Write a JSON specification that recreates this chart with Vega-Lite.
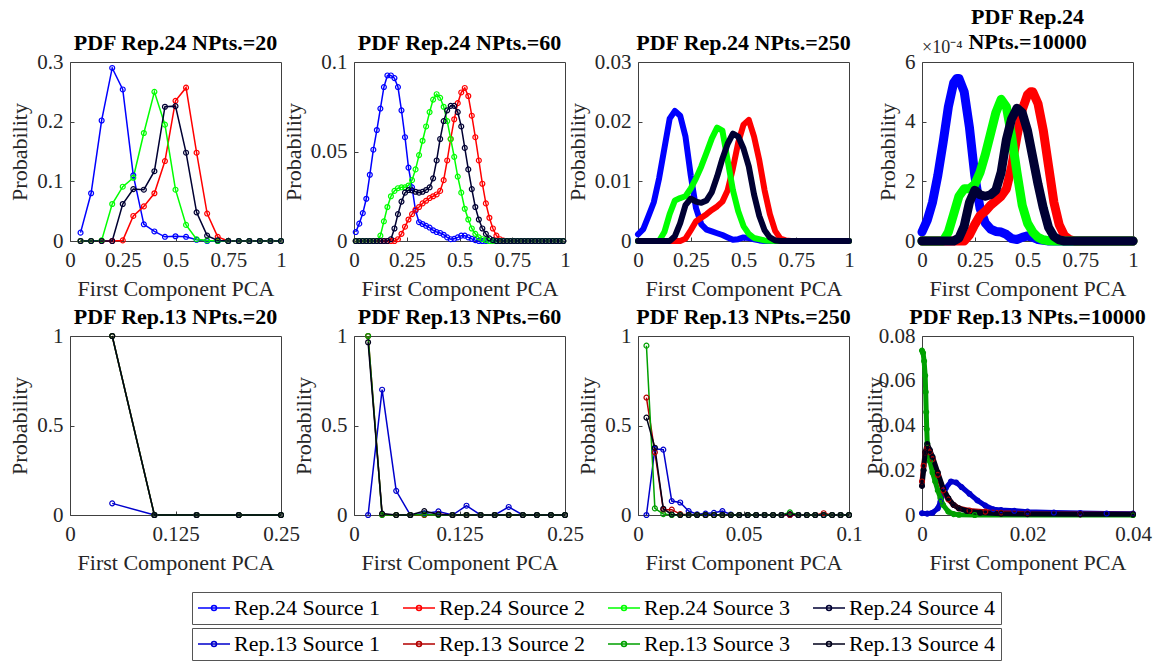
{
"$schema":"https://vega.github.io/schema/vega-lite/v6.json",
"padding":{"left":8,"top":5,"right":6,"bottom":2},
"background":"white",
"bounds":"flush",
"columns":4,
"spacing":{"row":95,"column":73},
"config":{
"font":"Liberation Serif",
"view":{"stroke":"#404040","strokeWidth":1},
"axis":{"labelFont":"Liberation Serif","labelFontSize":21,"labelColor":"#262626","titleFont":"Liberation Serif","titleFontSize":22,"titleFontWeight":"normal","titleColor":"#262626","grid":false,"domain":false,"ticks":true,"tickColor":"#404040","tickSize":-4,"labelFlush":false,"labelOverlap":false,"labelExpr":"'' + datum.value"},
"axisX":{"labelPadding":12,"titlePadding":8},
"axisY":{"labelPadding":11,"titlePadding":5},
"title":{"font":"Liberation Serif","fontSize":22,"fontWeight":"bold","color":"black","offset":-4,"anchor":"middle","lineHeight":25,"frame":"group"},
"legend":{"labelFont":"Liberation Serif","labelFontSize":22,"labelColor":"black","symbolType":"M-1.6,0L1.6,0M0.25,0A0.25,0.25,0,1,1,-0.25,0A0.25,0.25,0,1,1,0.25,0","symbolSize":400,"symbolStrokeWidth":1.5,"symbolOffset":6,"strokeColor":"#555555","fillColor":"white","padding":5,"columnPadding":19,"labelOffset":9,"labelLimit":300}
},
"datasets":{
"p1":[
{"x":0.05,"s":1,"y":0.014},{"x":0.1,"s":1,"y":0.08},{"x":0.15,"s":1,"y":0.202},{"x":0.2,"s":1,"y":0.29},{"x":0.25,"s":1,"y":0.254},{"x":0.3,"s":1,"y":0.11},{"x":0.35,"s":1,"y":0.028},{"x":0.4,"s":1,"y":0.016},{"x":0.45,"s":1,"y":0.007},{"x":0.5,"s":1,"y":0.008},{"x":0.55,"s":1,"y":0.007},{"x":0.6,"s":1,"y":0.002},{"x":0.65,"s":1,"y":0},{"x":0.7,"s":1,"y":0},{"x":0.75,"s":1,"y":0},{"x":0.8,"s":1,"y":0},{"x":0.85,"s":1,"y":0},{"x":0.9,"s":1,"y":0},{"x":0.95,"s":1,"y":0},{"x":1,"s":1,"y":0},
{"x":0.05,"s":2,"y":0},{"x":0.1,"s":2,"y":0},{"x":0.15,"s":2,"y":0},{"x":0.2,"s":2,"y":0},{"x":0.25,"s":2,"y":0.001},{"x":0.3,"s":2,"y":0.042},{"x":0.35,"s":2,"y":0.058},{"x":0.4,"s":2,"y":0.08},{"x":0.45,"s":2,"y":0.134},{"x":0.5,"s":2,"y":0.235},{"x":0.55,"s":2,"y":0.257},{"x":0.6,"s":2,"y":0.148},{"x":0.65,"s":2,"y":0.046},{"x":0.7,"s":2,"y":0.007},{"x":0.75,"s":2,"y":0},{"x":0.8,"s":2,"y":0},{"x":0.85,"s":2,"y":0},{"x":0.9,"s":2,"y":0},{"x":0.95,"s":2,"y":0},{"x":1,"s":2,"y":0},
{"x":0.05,"s":3,"y":0},{"x":0.1,"s":3,"y":0},{"x":0.15,"s":3,"y":0.001},{"x":0.2,"s":3,"y":0.062},{"x":0.25,"s":3,"y":0.091},{"x":0.3,"s":3,"y":0.106},{"x":0.35,"s":3,"y":0.181},{"x":0.4,"s":3,"y":0.25},{"x":0.45,"s":3,"y":0.195},{"x":0.5,"s":3,"y":0.086},{"x":0.55,"s":3,"y":0.027},{"x":0.6,"s":3,"y":0.003},{"x":0.65,"s":3,"y":0.001},{"x":0.7,"s":3,"y":0},{"x":0.75,"s":3,"y":0},{"x":0.8,"s":3,"y":0},{"x":0.85,"s":3,"y":0},{"x":0.9,"s":3,"y":0},{"x":0.95,"s":3,"y":0},{"x":1,"s":3,"y":0},
{"x":0.05,"s":4,"y":0},{"x":0.1,"s":4,"y":0},{"x":0.15,"s":4,"y":0},{"x":0.2,"s":4,"y":0},{"x":0.25,"s":4,"y":0.062},{"x":0.3,"s":4,"y":0.087},{"x":0.35,"s":4,"y":0.086},{"x":0.4,"s":4,"y":0.117},{"x":0.45,"s":4,"y":0.225},{"x":0.5,"s":4,"y":0.226},{"x":0.55,"s":4,"y":0.148},{"x":0.6,"s":4,"y":0.048},{"x":0.65,"s":4,"y":0.009},{"x":0.7,"s":4,"y":0.001},{"x":0.75,"s":4,"y":0},{"x":0.8,"s":4,"y":0},{"x":0.85,"s":4,"y":0},{"x":0.9,"s":4,"y":0},{"x":0.95,"s":4,"y":0},{"x":1,"s":4,"y":0}
],
"p2":[
{"x":0.0083,"s":1,"y":0.005},{"x":0.025,"s":1,"y":0.0097},{"x":0.0417,"s":1,"y":0.0156},{"x":0.0583,"s":1,"y":0.0236},{"x":0.075,"s":1,"y":0.037},{"x":0.0917,"s":1,"y":0.051},{"x":0.1083,"s":1,"y":0.062},{"x":0.125,"s":1,"y":0.074},{"x":0.1417,"s":1,"y":0.086},{"x":0.1583,"s":1,"y":0.0925},{"x":0.175,"s":1,"y":0.0925},{"x":0.1917,"s":1,"y":0.091},{"x":0.2083,"s":1,"y":0.086},{"x":0.225,"s":1,"y":0.073},{"x":0.2417,"s":1,"y":0.058},{"x":0.2583,"s":1,"y":0.041},{"x":0.275,"s":1,"y":0.03},{"x":0.2917,"s":1,"y":0.017},{"x":0.3083,"s":1,"y":0.0105},{"x":0.325,"s":1,"y":0.0095},{"x":0.3417,"s":1,"y":0.0085},{"x":0.3583,"s":1,"y":0.0075},{"x":0.375,"s":1,"y":0.006},{"x":0.3917,"s":1,"y":0.005},{"x":0.4083,"s":1,"y":0.0045},{"x":0.425,"s":1,"y":0.0035},{"x":0.4417,"s":1,"y":0.002},{"x":0.4583,"s":1,"y":0.001},{"x":0.475,"s":1,"y":0.0012},{"x":0.4917,"s":1,"y":0.002},{"x":0.5083,"s":1,"y":0.003},{"x":0.525,"s":1,"y":0.003},{"x":0.5417,"s":1,"y":0.002},{"x":0.5583,"s":1,"y":0.0012},{"x":0.575,"s":1,"y":0.0005},{"x":0.5917,"s":1,"y":0},{"x":0.6083,"s":1,"y":0},{"x":0.625,"s":1,"y":0},{"x":0.6417,"s":1,"y":0},{"x":0.6583,"s":1,"y":0},{"x":0.675,"s":1,"y":0},{"x":0.6917,"s":1,"y":0},{"x":0.7083,"s":1,"y":0},{"x":0.725,"s":1,"y":0},{"x":0.7417,"s":1,"y":0},{"x":0.7583,"s":1,"y":0},{"x":0.775,"s":1,"y":0},{"x":0.7917,"s":1,"y":0},{"x":0.8083,"s":1,"y":0},{"x":0.825,"s":1,"y":0},{"x":0.8417,"s":1,"y":0},{"x":0.8583,"s":1,"y":0},{"x":0.875,"s":1,"y":0},{"x":0.8917,"s":1,"y":0},{"x":0.9083,"s":1,"y":0},{"x":0.925,"s":1,"y":0},{"x":0.9417,"s":1,"y":0},{"x":0.9583,"s":1,"y":0},{"x":0.975,"s":1,"y":0},{"x":0.9917,"s":1,"y":0},
{"x":0.0083,"s":2,"y":0},{"x":0.025,"s":2,"y":0},{"x":0.0417,"s":2,"y":0},{"x":0.0583,"s":2,"y":0},{"x":0.075,"s":2,"y":0},{"x":0.0917,"s":2,"y":0},{"x":0.1083,"s":2,"y":0},{"x":0.125,"s":2,"y":0},{"x":0.1417,"s":2,"y":0},{"x":0.1583,"s":2,"y":0},{"x":0.175,"s":2,"y":0},{"x":0.1917,"s":2,"y":0},{"x":0.2083,"s":2,"y":0.001},{"x":0.225,"s":2,"y":0.004},{"x":0.2417,"s":2,"y":0.008},{"x":0.2583,"s":2,"y":0.012},{"x":0.275,"s":2,"y":0.015},{"x":0.2917,"s":2,"y":0.0175},{"x":0.3083,"s":2,"y":0.019},{"x":0.325,"s":2,"y":0.021},{"x":0.3417,"s":2,"y":0.0225},{"x":0.3583,"s":2,"y":0.024},{"x":0.375,"s":2,"y":0.025},{"x":0.3917,"s":2,"y":0.026},{"x":0.4083,"s":2,"y":0.028},{"x":0.425,"s":2,"y":0.034},{"x":0.4417,"s":2,"y":0.045},{"x":0.4583,"s":2,"y":0.057},{"x":0.475,"s":2,"y":0.068},{"x":0.4917,"s":2,"y":0.077},{"x":0.5083,"s":2,"y":0.083},{"x":0.525,"s":2,"y":0.0855},{"x":0.5417,"s":2,"y":0.081},{"x":0.5583,"s":2,"y":0.07},{"x":0.575,"s":2,"y":0.058},{"x":0.5917,"s":2,"y":0.045},{"x":0.6083,"s":2,"y":0.032},{"x":0.625,"s":2,"y":0.021},{"x":0.6417,"s":2,"y":0.013},{"x":0.6583,"s":2,"y":0.007},{"x":0.675,"s":2,"y":0.003},{"x":0.6917,"s":2,"y":0.001},{"x":0.7083,"s":2,"y":0.0002},{"x":0.725,"s":2,"y":0},{"x":0.7417,"s":2,"y":0},{"x":0.7583,"s":2,"y":0},{"x":0.775,"s":2,"y":0},{"x":0.7917,"s":2,"y":0},{"x":0.8083,"s":2,"y":0},{"x":0.825,"s":2,"y":0},{"x":0.8417,"s":2,"y":0},{"x":0.8583,"s":2,"y":0},{"x":0.875,"s":2,"y":0},{"x":0.8917,"s":2,"y":0},{"x":0.9083,"s":2,"y":0},{"x":0.925,"s":2,"y":0},{"x":0.9417,"s":2,"y":0},{"x":0.9583,"s":2,"y":0},{"x":0.975,"s":2,"y":0},{"x":0.9917,"s":2,"y":0},
{"x":0.0083,"s":3,"y":0},{"x":0.025,"s":3,"y":0},{"x":0.0417,"s":3,"y":0},{"x":0.0583,"s":3,"y":0},{"x":0.075,"s":3,"y":0},{"x":0.0917,"s":3,"y":0},{"x":0.1083,"s":3,"y":0},{"x":0.125,"s":3,"y":0.003},{"x":0.1417,"s":3,"y":0.011},{"x":0.1583,"s":3,"y":0.019},{"x":0.175,"s":3,"y":0.025},{"x":0.1917,"s":3,"y":0.028},{"x":0.2083,"s":3,"y":0.0295},{"x":0.225,"s":3,"y":0.03},{"x":0.2417,"s":3,"y":0.03},{"x":0.2583,"s":3,"y":0.031},{"x":0.275,"s":3,"y":0.034},{"x":0.2917,"s":3,"y":0.04},{"x":0.3083,"s":3,"y":0.048},{"x":0.325,"s":3,"y":0.056},{"x":0.3417,"s":3,"y":0.064},{"x":0.3583,"s":3,"y":0.072},{"x":0.375,"s":3,"y":0.079},{"x":0.3917,"s":3,"y":0.082},{"x":0.4083,"s":3,"y":0.08},{"x":0.425,"s":3,"y":0.075},{"x":0.4417,"s":3,"y":0.067},{"x":0.4583,"s":3,"y":0.057},{"x":0.475,"s":3,"y":0.047},{"x":0.4917,"s":3,"y":0.036},{"x":0.5083,"s":3,"y":0.027},{"x":0.525,"s":3,"y":0.018},{"x":0.5417,"s":3,"y":0.012},{"x":0.5583,"s":3,"y":0.007},{"x":0.575,"s":3,"y":0.004},{"x":0.5917,"s":3,"y":0.002},{"x":0.6083,"s":3,"y":0.001},{"x":0.625,"s":3,"y":0.0005},{"x":0.6417,"s":3,"y":0},{"x":0.6583,"s":3,"y":0},{"x":0.675,"s":3,"y":0},{"x":0.6917,"s":3,"y":0},{"x":0.7083,"s":3,"y":0},{"x":0.725,"s":3,"y":0},{"x":0.7417,"s":3,"y":0},{"x":0.7583,"s":3,"y":0},{"x":0.775,"s":3,"y":0},{"x":0.7917,"s":3,"y":0},{"x":0.8083,"s":3,"y":0},{"x":0.825,"s":3,"y":0},{"x":0.8417,"s":3,"y":0},{"x":0.8583,"s":3,"y":0},{"x":0.875,"s":3,"y":0},{"x":0.8917,"s":3,"y":0},{"x":0.9083,"s":3,"y":0},{"x":0.925,"s":3,"y":0},{"x":0.9417,"s":3,"y":0},{"x":0.9583,"s":3,"y":0},{"x":0.975,"s":3,"y":0},{"x":0.9917,"s":3,"y":0},
{"x":0.0083,"s":4,"y":0},{"x":0.025,"s":4,"y":0},{"x":0.0417,"s":4,"y":0},{"x":0.0583,"s":4,"y":0},{"x":0.075,"s":4,"y":0},{"x":0.0917,"s":4,"y":0},{"x":0.1083,"s":4,"y":0},{"x":0.125,"s":4,"y":0},{"x":0.1417,"s":4,"y":0},{"x":0.1583,"s":4,"y":0},{"x":0.175,"s":4,"y":0.001},{"x":0.1917,"s":4,"y":0.007},{"x":0.2083,"s":4,"y":0.015},{"x":0.225,"s":4,"y":0.022},{"x":0.2417,"s":4,"y":0.027},{"x":0.2583,"s":4,"y":0.0285},{"x":0.275,"s":4,"y":0.0283},{"x":0.2917,"s":4,"y":0.0275},{"x":0.3083,"s":4,"y":0.027},{"x":0.325,"s":4,"y":0.0275},{"x":0.3417,"s":4,"y":0.0285},{"x":0.3583,"s":4,"y":0.03},{"x":0.375,"s":4,"y":0.035},{"x":0.3917,"s":4,"y":0.045},{"x":0.4083,"s":4,"y":0.057},{"x":0.425,"s":4,"y":0.067},{"x":0.4417,"s":4,"y":0.073},{"x":0.4583,"s":4,"y":0.0755},{"x":0.475,"s":4,"y":0.0755},{"x":0.4917,"s":4,"y":0.072},{"x":0.5083,"s":4,"y":0.064},{"x":0.525,"s":4,"y":0.052},{"x":0.5417,"s":4,"y":0.04},{"x":0.5583,"s":4,"y":0.029},{"x":0.575,"s":4,"y":0.019},{"x":0.5917,"s":4,"y":0.012},{"x":0.6083,"s":4,"y":0.007},{"x":0.625,"s":4,"y":0.004},{"x":0.6417,"s":4,"y":0.0015},{"x":0.6583,"s":4,"y":0.0005},{"x":0.675,"s":4,"y":0},{"x":0.6917,"s":4,"y":0},{"x":0.7083,"s":4,"y":0},{"x":0.725,"s":4,"y":0},{"x":0.7417,"s":4,"y":0},{"x":0.7583,"s":4,"y":0},{"x":0.775,"s":4,"y":0},{"x":0.7917,"s":4,"y":0},{"x":0.8083,"s":4,"y":0},{"x":0.825,"s":4,"y":0},{"x":0.8417,"s":4,"y":0},{"x":0.8583,"s":4,"y":0},{"x":0.875,"s":4,"y":0},{"x":0.8917,"s":4,"y":0},{"x":0.9083,"s":4,"y":0},{"x":0.925,"s":4,"y":0},{"x":0.9417,"s":4,"y":0},{"x":0.9583,"s":4,"y":0},{"x":0.975,"s":4,"y":0},{"x":0.9917,"s":4,"y":0}
],
"p3":[
{"x":0,"s":1,"y":0.0011},{"x":0.025,"s":1,"y":0.002},{"x":0.05,"s":1,"y":0.0042},{"x":0.075,"s":1,"y":0.0065},{"x":0.1,"s":1,"y":0.0105},{"x":0.125,"s":1,"y":0.0155},{"x":0.15,"s":1,"y":0.0205},{"x":0.175,"s":1,"y":0.0218},{"x":0.2,"s":1,"y":0.021},{"x":0.225,"s":1,"y":0.0175},{"x":0.25,"s":1,"y":0.011},{"x":0.275,"s":1,"y":0.0055},{"x":0.3,"s":1,"y":0.0028},{"x":0.325,"s":1,"y":0.0019},{"x":0.35,"s":1,"y":0.0016},{"x":0.375,"s":1,"y":0.0013},{"x":0.4,"s":1,"y":0.001},{"x":0.425,"s":1,"y":0.0006},{"x":0.45,"s":1,"y":0.0002},{"x":0.475,"s":1,"y":0.0003},{"x":0.5,"s":1,"y":0.0006},{"x":0.525,"s":1,"y":0.0005},{"x":0.55,"s":1,"y":0.0003},{"x":0.575,"s":1,"y":0.0001},{"x":0.6,"s":1,"y":0},{"x":1,"s":1,"y":0},
{"x":0,"s":2,"y":0},{"x":0.2,"s":2,"y":0},{"x":0.225,"s":2,"y":0.0004},{"x":0.25,"s":2,"y":0.0018},{"x":0.275,"s":2,"y":0.0033},{"x":0.3,"s":2,"y":0.0039},{"x":0.325,"s":2,"y":0.0045},{"x":0.35,"s":2,"y":0.0052},{"x":0.375,"s":2,"y":0.0058},{"x":0.4,"s":2,"y":0.0066},{"x":0.425,"s":2,"y":0.0085},{"x":0.45,"s":2,"y":0.0122},{"x":0.475,"s":2,"y":0.0165},{"x":0.5,"s":2,"y":0.0195},{"x":0.525,"s":2,"y":0.0203},{"x":0.55,"s":2,"y":0.0175},{"x":0.575,"s":2,"y":0.0135},{"x":0.6,"s":2,"y":0.0085},{"x":0.625,"s":2,"y":0.0045},{"x":0.65,"s":2,"y":0.0017},{"x":0.675,"s":2,"y":0.0004},{"x":0.7,"s":2,"y":0.0001},{"x":0.725,"s":2,"y":0},{"x":1,"s":2,"y":0},
{"x":0,"s":3,"y":0},{"x":0.1,"s":3,"y":0},{"x":0.125,"s":3,"y":0.0015},{"x":0.15,"s":3,"y":0.0045},{"x":0.175,"s":3,"y":0.0068},{"x":0.2,"s":3,"y":0.0072},{"x":0.225,"s":3,"y":0.0075},{"x":0.25,"s":3,"y":0.0088},{"x":0.275,"s":3,"y":0.0105},{"x":0.3,"s":3,"y":0.0125},{"x":0.325,"s":3,"y":0.0148},{"x":0.35,"s":3,"y":0.0172},{"x":0.375,"s":3,"y":0.019},{"x":0.4,"s":3,"y":0.0185},{"x":0.425,"s":3,"y":0.0135},{"x":0.45,"s":3,"y":0.0085},{"x":0.475,"s":3,"y":0.005},{"x":0.5,"s":3,"y":0.0025},{"x":0.525,"s":3,"y":0.0012},{"x":0.55,"s":3,"y":0.0005},{"x":0.6,"s":3,"y":0.0001},{"x":0.65,"s":3,"y":0},{"x":1,"s":3,"y":0},
{"x":0,"s":4,"y":0},{"x":0.15,"s":4,"y":0},{"x":0.175,"s":4,"y":0.0008},{"x":0.2,"s":4,"y":0.003},{"x":0.225,"s":4,"y":0.006},{"x":0.25,"s":4,"y":0.0071},{"x":0.275,"s":4,"y":0.0066},{"x":0.3,"s":4,"y":0.0064},{"x":0.325,"s":4,"y":0.0068},{"x":0.35,"s":4,"y":0.0082},{"x":0.375,"s":4,"y":0.0108},{"x":0.4,"s":4,"y":0.0138},{"x":0.425,"s":4,"y":0.0163},{"x":0.45,"s":4,"y":0.018},{"x":0.475,"s":4,"y":0.0175},{"x":0.5,"s":4,"y":0.0155},{"x":0.525,"s":4,"y":0.0125},{"x":0.55,"s":4,"y":0.0078},{"x":0.575,"s":4,"y":0.0042},{"x":0.6,"s":4,"y":0.0018},{"x":0.625,"s":4,"y":0.0006},{"x":0.65,"s":4,"y":0.0001},{"x":0.675,"s":4,"y":0},{"x":1,"s":4,"y":0}
],
"p4":[
{"x":0,"s":1,"y":0.00003},{"x":0.025,"s":1,"y":0.00007},{"x":0.05,"s":1,"y":0.00013},{"x":0.075,"s":1,"y":0.00022},{"x":0.1,"s":1,"y":0.00033},{"x":0.125,"s":1,"y":0.00045},{"x":0.15,"s":1,"y":0.00053},{"x":0.165,"s":1,"y":0.000545},{"x":0.175,"s":1,"y":0.000545},{"x":0.2,"s":1,"y":0.0005},{"x":0.225,"s":1,"y":0.00038},{"x":0.25,"s":1,"y":0.00022},{"x":0.275,"s":1,"y":0.00011},{"x":0.3,"s":1,"y":0.00006},{"x":0.325,"s":1,"y":0.00004},{"x":0.35,"s":1,"y":0.000032},{"x":0.375,"s":1,"y":0.00003},{"x":0.4,"s":1,"y":0.000022},{"x":0.425,"s":1,"y":0.000008},{"x":0.45,"s":1,"y":0.000005},{"x":0.475,"s":1,"y":0.000012},{"x":0.5,"s":1,"y":0.000017},{"x":0.525,"s":1,"y":0.000012},{"x":0.55,"s":1,"y":0.000005},{"x":0.575,"s":1,"y":0.000002},{"x":0.6,"s":1,"y":0},{"x":1,"s":1,"y":0},
{"x":0,"s":2,"y":0},{"x":0.2,"s":2,"y":0},{"x":0.225,"s":2,"y":0.00002},{"x":0.25,"s":2,"y":0.000055},{"x":0.275,"s":2,"y":0.000085},{"x":0.3,"s":2,"y":0.0001},{"x":0.325,"s":2,"y":0.00012},{"x":0.35,"s":2,"y":0.000135},{"x":0.375,"s":2,"y":0.00015},{"x":0.4,"s":2,"y":0.000175},{"x":0.425,"s":2,"y":0.00025},{"x":0.45,"s":2,"y":0.00035},{"x":0.475,"s":2,"y":0.00044},{"x":0.5,"s":2,"y":0.00049},{"x":0.515,"s":2,"y":0.0005},{"x":0.525,"s":2,"y":0.0005},{"x":0.55,"s":2,"y":0.00046},{"x":0.575,"s":2,"y":0.00037},{"x":0.6,"s":2,"y":0.00025},{"x":0.625,"s":2,"y":0.00013},{"x":0.65,"s":2,"y":0.000055},{"x":0.675,"s":2,"y":0.000018},{"x":0.7,"s":2,"y":0.000005},{"x":0.725,"s":2,"y":0},{"x":1,"s":2,"y":0},
{"x":0,"s":3,"y":0},{"x":0.1,"s":3,"y":0},{"x":0.125,"s":3,"y":0.00003},{"x":0.15,"s":3,"y":0.00009},{"x":0.175,"s":3,"y":0.00015},{"x":0.2,"s":3,"y":0.000175},{"x":0.225,"s":3,"y":0.000175},{"x":0.25,"s":3,"y":0.00019},{"x":0.275,"s":3,"y":0.00023},{"x":0.3,"s":3,"y":0.00029},{"x":0.325,"s":3,"y":0.00036},{"x":0.35,"s":3,"y":0.00043},{"x":0.375,"s":3,"y":0.000475},{"x":0.4,"s":3,"y":0.00045},{"x":0.425,"s":3,"y":0.00035},{"x":0.45,"s":3,"y":0.00023},{"x":0.475,"s":3,"y":0.00012},{"x":0.5,"s":3,"y":0.00006},{"x":0.525,"s":3,"y":0.00003},{"x":0.55,"s":3,"y":0.000012},{"x":0.575,"s":3,"y":0.000004},{"x":0.6,"s":3,"y":0.000001},{"x":0.625,"s":3,"y":0},{"x":1,"s":3,"y":0},
{"x":0,"s":4,"y":0},{"x":0.15,"s":4,"y":0},{"x":0.175,"s":4,"y":0.00001},{"x":0.2,"s":4,"y":0.00005},{"x":0.225,"s":4,"y":0.00013},{"x":0.25,"s":4,"y":0.00017},{"x":0.275,"s":4,"y":0.000155},{"x":0.3,"s":4,"y":0.00015},{"x":0.325,"s":4,"y":0.000155},{"x":0.35,"s":4,"y":0.00017},{"x":0.375,"s":4,"y":0.00023},{"x":0.4,"s":4,"y":0.00034},{"x":0.425,"s":4,"y":0.00041},{"x":0.45,"s":4,"y":0.000445},{"x":0.475,"s":4,"y":0.00043},{"x":0.5,"s":4,"y":0.00037},{"x":0.525,"s":4,"y":0.00028},{"x":0.55,"s":4,"y":0.00019},{"x":0.575,"s":4,"y":0.00011},{"x":0.6,"s":4,"y":0.000045},{"x":0.625,"s":4,"y":0.000015},{"x":0.65,"s":4,"y":0.000004},{"x":0.675,"s":4,"y":0},{"x":1,"s":4,"y":0}
],
"p5":[
{"x":0.05,"s":1,"y":0.065},{"x":0.1,"s":1,"y":0},{"x":0.15,"s":1,"y":0},{"x":0.2,"s":1,"y":0},{"x":0.25,"s":1,"y":0},
{"x":0.05,"s":2,"y":1},{"x":0.1,"s":2,"y":0},{"x":0.15,"s":2,"y":0},{"x":0.2,"s":2,"y":0},{"x":0.25,"s":2,"y":0},
{"x":0.05,"s":3,"y":1},{"x":0.1,"s":3,"y":0},{"x":0.15,"s":3,"y":0},{"x":0.2,"s":3,"y":0},{"x":0.25,"s":3,"y":0},
{"x":0.05,"s":4,"y":1},{"x":0.1,"s":4,"y":0},{"x":0.15,"s":4,"y":0},{"x":0.2,"s":4,"y":0},{"x":0.25,"s":4,"y":0}
],
"p6":[
{"x":0.0167,"s":1,"y":0},{"x":0.0333,"s":1,"y":0.7},{"x":0.05,"s":1,"y":0.135},{"x":0.0667,"s":1,"y":0},{"x":0.0833,"s":1,"y":0.008},{"x":0.1,"s":1,"y":0.02},{"x":0.1167,"s":1,"y":0},{"x":0.1333,"s":1,"y":0.052},{"x":0.15,"s":1,"y":0},{"x":0.1667,"s":1,"y":0},{"x":0.1833,"s":1,"y":0.045},{"x":0.2,"s":1,"y":0},{"x":0.2167,"s":1,"y":0},{"x":0.2333,"s":1,"y":0},{"x":0.25,"s":1,"y":0},
{"x":0.0167,"s":2,"y":1},{"x":0.0333,"s":2,"y":0.003},{"x":0.05,"s":2,"y":0},{"x":0.0667,"s":2,"y":0},{"x":0.0833,"s":2,"y":0},{"x":0.1,"s":2,"y":0.004},{"x":0.1167,"s":2,"y":0},{"x":0.1333,"s":2,"y":0},{"x":0.15,"s":2,"y":0},{"x":0.1667,"s":2,"y":0},{"x":0.1833,"s":2,"y":0},{"x":0.2,"s":2,"y":0},{"x":0.2167,"s":2,"y":0},{"x":0.2333,"s":2,"y":0},{"x":0.25,"s":2,"y":0},
{"x":0.0167,"s":3,"y":1},{"x":0.0333,"s":3,"y":0},{"x":0.05,"s":3,"y":0},{"x":0.0667,"s":3,"y":0},{"x":0.0833,"s":3,"y":0.003},{"x":0.1,"s":3,"y":0},{"x":0.1167,"s":3,"y":0},{"x":0.1333,"s":3,"y":0},{"x":0.15,"s":3,"y":0},{"x":0.1667,"s":3,"y":0},{"x":0.1833,"s":3,"y":0},{"x":0.2,"s":3,"y":0},{"x":0.2167,"s":3,"y":0},{"x":0.2333,"s":3,"y":0},{"x":0.25,"s":3,"y":0},
{"x":0.0167,"s":4,"y":0.965},{"x":0.0333,"s":4,"y":0.008},{"x":0.05,"s":4,"y":0},{"x":0.0667,"s":4,"y":0},{"x":0.0833,"s":4,"y":0.022},{"x":0.1,"s":4,"y":0.003},{"x":0.1167,"s":4,"y":0},{"x":0.1333,"s":4,"y":0},{"x":0.15,"s":4,"y":0},{"x":0.1667,"s":4,"y":0},{"x":0.1833,"s":4,"y":0},{"x":0.2,"s":4,"y":0},{"x":0.2167,"s":4,"y":0},{"x":0.2333,"s":4,"y":0},{"x":0.25,"s":4,"y":0}
],
"p7":[
{"x":0.004,"s":1,"y":0},{"x":0.008,"s":1,"y":0.37},{"x":0.012,"s":1,"y":0.365},{"x":0.016,"s":1,"y":0.078},{"x":0.02,"s":1,"y":0.07},{"x":0.024,"s":1,"y":0.022},{"x":0.028,"s":1,"y":0.004},{"x":0.032,"s":1,"y":0.008},{"x":0.036,"s":1,"y":0.012},{"x":0.04,"s":1,"y":0.022},{"x":0.044,"s":1,"y":0.003},{"x":0.048,"s":1,"y":0},{"x":0.052,"s":1,"y":0},{"x":0.056,"s":1,"y":0},{"x":0.06,"s":1,"y":0},{"x":0.064,"s":1,"y":0},{"x":0.068,"s":1,"y":0},{"x":0.072,"s":1,"y":0},{"x":0.076,"s":1,"y":0},{"x":0.08,"s":1,"y":0},{"x":0.084,"s":1,"y":0},{"x":0.088,"s":1,"y":0},{"x":0.092,"s":1,"y":0},{"x":0.096,"s":1,"y":0},{"x":0.1,"s":1,"y":0},
{"x":0.004,"s":2,"y":0.656},{"x":0.008,"s":2,"y":0.35},{"x":0.012,"s":2,"y":0.03},{"x":0.016,"s":2,"y":0.03},{"x":0.02,"s":2,"y":0.005},{"x":0.024,"s":2,"y":0},{"x":0.028,"s":2,"y":0},{"x":0.032,"s":2,"y":0},{"x":0.036,"s":2,"y":0},{"x":0.04,"s":2,"y":0},{"x":0.044,"s":2,"y":0},{"x":0.048,"s":2,"y":0},{"x":0.052,"s":2,"y":0},{"x":0.056,"s":2,"y":0},{"x":0.06,"s":2,"y":0},{"x":0.064,"s":2,"y":0},{"x":0.068,"s":2,"y":0},{"x":0.072,"s":2,"y":0},{"x":0.076,"s":2,"y":0},{"x":0.08,"s":2,"y":0},{"x":0.084,"s":2,"y":0},{"x":0.088,"s":2,"y":0.01},{"x":0.092,"s":2,"y":0},{"x":0.096,"s":2,"y":0},{"x":0.1,"s":2,"y":0},
{"x":0.004,"s":3,"y":0.946},{"x":0.008,"s":3,"y":0.037},{"x":0.012,"s":3,"y":0.005},{"x":0.016,"s":3,"y":0},{"x":0.02,"s":3,"y":0},{"x":0.024,"s":3,"y":0},{"x":0.028,"s":3,"y":0},{"x":0.032,"s":3,"y":0},{"x":0.036,"s":3,"y":0},{"x":0.04,"s":3,"y":0},{"x":0.044,"s":3,"y":0},{"x":0.048,"s":3,"y":0},{"x":0.052,"s":3,"y":0},{"x":0.056,"s":3,"y":0},{"x":0.06,"s":3,"y":0},{"x":0.064,"s":3,"y":0},{"x":0.068,"s":3,"y":0},{"x":0.072,"s":3,"y":0.015},{"x":0.076,"s":3,"y":0},{"x":0.08,"s":3,"y":0},{"x":0.084,"s":3,"y":0},{"x":0.088,"s":3,"y":0},{"x":0.092,"s":3,"y":0},{"x":0.096,"s":3,"y":0},{"x":0.1,"s":3,"y":0},
{"x":0.004,"s":4,"y":0.544},{"x":0.008,"s":4,"y":0.376},{"x":0.012,"s":4,"y":0.035},{"x":0.016,"s":4,"y":0.003},{"x":0.02,"s":4,"y":0},{"x":0.024,"s":4,"y":0},{"x":0.028,"s":4,"y":0},{"x":0.032,"s":4,"y":0},{"x":0.036,"s":4,"y":0},{"x":0.04,"s":4,"y":0},{"x":0.044,"s":4,"y":0},{"x":0.048,"s":4,"y":0},{"x":0.052,"s":4,"y":0},{"x":0.056,"s":4,"y":0},{"x":0.06,"s":4,"y":0},{"x":0.064,"s":4,"y":0},{"x":0.068,"s":4,"y":0},{"x":0.072,"s":4,"y":0.005},{"x":0.076,"s":4,"y":0},{"x":0.08,"s":4,"y":0},{"x":0.084,"s":4,"y":0},{"x":0.088,"s":4,"y":0},{"x":0.092,"s":4,"y":0},{"x":0.096,"s":4,"y":0},{"x":0.1,"s":4,"y":0}
],
"p8":[
{"x":0,"s":1,"y":0.0008},{"x":0.001,"s":1,"y":0.0006},{"x":0.002,"s":1,"y":0.001},{"x":0.003,"s":1,"y":0.003},{"x":0.0035,"s":1,"y":0.006},{"x":0.0045,"s":1,"y":0.012},{"x":0.0055,"s":1,"y":0.015},{"x":0.0065,"s":1,"y":0.0145},{"x":0.0075,"s":1,"y":0.0125},{"x":0.009,"s":1,"y":0.0095},{"x":0.0105,"s":1,"y":0.0065},{"x":0.012,"s":1,"y":0.0042},{"x":0.0135,"s":1,"y":0.0026},{"x":0.015,"s":1,"y":0.0022},{"x":0.0175,"s":1,"y":0.0019},{"x":0.02,"s":1,"y":0.0015},{"x":0.025,"s":1,"y":0.0011},{"x":0.03,"s":1,"y":0.0009},{"x":0.035,"s":1,"y":0.0007},{"x":0.04,"s":1,"y":0.0006},
{"x":0,"s":2,"y":0.015},{"x":0.0003,"s":2,"y":0.022},{"x":0.0006,"s":2,"y":0.028},{"x":0.001,"s":2,"y":0.03},{"x":0.0015,"s":2,"y":0.028},{"x":0.002,"s":2,"y":0.025},{"x":0.003,"s":2,"y":0.018},{"x":0.004,"s":2,"y":0.011},{"x":0.005,"s":2,"y":0.007},{"x":0.006,"s":2,"y":0.0045},{"x":0.007,"s":2,"y":0.003},{"x":0.009,"s":2,"y":0.002},{"x":0.012,"s":2,"y":0.0015},{"x":0.015,"s":2,"y":0.001},{"x":0.02,"s":2,"y":0.0006},{"x":0.03,"s":2,"y":0.0004},{"x":0.04,"s":2,"y":0.0003},
{"x":0,"s":3,"y":0.0735},{"x":0.0002,"s":3,"y":0.0725},{"x":0.0004,"s":3,"y":0.0688},{"x":0.0006,"s":3,"y":0.0623},{"x":0.0007,"s":3,"y":0.055},{"x":0.0008,"s":3,"y":0.046},{"x":0.0009,"s":3,"y":0.0384},{"x":0.001,"s":3,"y":0.032},{"x":0.0015,"s":3,"y":0.024},{"x":0.002,"s":3,"y":0.019},{"x":0.0025,"s":3,"y":0.015},{"x":0.003,"s":3,"y":0.011},{"x":0.0035,"s":3,"y":0.0075},{"x":0.004,"s":3,"y":0.0045},{"x":0.005,"s":3,"y":0.0015},{"x":0.006,"s":3,"y":0.0004},{"x":0.007,"s":3,"y":0.0001},{"x":0.01,"s":3,"y":0},{"x":0.04,"s":3,"y":0},
{"x":0,"s":4,"y":0.013},{"x":0.0003,"s":4,"y":0.02},{"x":0.0006,"s":4,"y":0.028},{"x":0.001,"s":4,"y":0.0317},{"x":0.0015,"s":4,"y":0.029},{"x":0.002,"s":4,"y":0.026},{"x":0.003,"s":4,"y":0.019},{"x":0.004,"s":4,"y":0.012},{"x":0.005,"s":4,"y":0.0075},{"x":0.006,"s":4,"y":0.0045},{"x":0.007,"s":4,"y":0.003},{"x":0.0085,"s":4,"y":0.0018},{"x":0.011,"s":4,"y":0.001},{"x":0.015,"s":4,"y":0.0006},{"x":0.02,"s":4,"y":0.0004},{"x":0.03,"s":4,"y":0.0003},{"x":0.04,"s":4,"y":0.0003}
]
},
"concat":[
{"width":211,"height":179,"title":"PDF Rep.24 NPts.=20","data":{"name":"p1"},
"encoding":{"x":{"field":"x","type":"quantitative","scale":{"domain":[0,1],"nice":false,"zero":false},"axis":{"values":[0,0.25,0.5,0.75,1],"title":"First Component PCA"}},
"y":{"field":"y","type":"quantitative","scale":{"domain":[0,0.3],"nice":false},"axis":{"values":[0,0.1,0.2,0.3],"title":"Probability"}},
"color":{"field":"s","type":"nominal","scale":{"range":["#0000ff","#ff0000","#00ff00","#000033"]},"legend":{"orient":"none","legendX":122,"legendY":530,"direction":"horizontal","columns":4,"title":null,"labelExpr":"'Rep.24 Source ' + datum.label"}}},
"layer":[{"mark":{"type":"line","strokeWidth":1.5}},{"mark":{"type":"point","filled":false,"size":24,"strokeWidth":1.2,"opacity":1}}]},
{"width":211,"height":179,"title":"PDF Rep.24 NPts.=60","data":{"name":"p2"},
"encoding":{"x":{"field":"x","type":"quantitative","scale":{"domain":[0,1],"nice":false,"zero":false},"axis":{"values":[0,0.25,0.5,0.75,1],"title":"First Component PCA"}},
"y":{"field":"y","type":"quantitative","scale":{"domain":[0,0.1],"nice":false},"axis":{"values":[0,0.05,0.1],"title":"Probability"}},
"color":{"field":"s","type":"nominal","scale":{"range":["#0000ff","#ff0000","#00ff00","#000033"]},"legend":{"orient":"none","legendX":122,"legendY":530,"direction":"horizontal","columns":4,"title":null,"labelExpr":"'Rep.24 Source ' + datum.label"}}},
"layer":[{"mark":{"type":"line","strokeWidth":1.5}},{"mark":{"type":"point","filled":false,"size":24,"strokeWidth":1.2,"opacity":1}}]},
{"width":211,"height":179,"title":"PDF Rep.24 NPts.=250","data":{"name":"p3"},
"encoding":{"x":{"field":"x","type":"quantitative","scale":{"domain":[0,1],"nice":false,"zero":false},"axis":{"values":[0,0.25,0.5,0.75,1],"title":"First Component PCA"}},
"y":{"field":"y","type":"quantitative","scale":{"domain":[0,0.03],"nice":false},"axis":{"values":[0,0.01,0.02,0.03],"title":"Probability"}},
"color":{"field":"s","type":"nominal","scale":{"range":["#0000ff","#ff0000","#00ff00","#000033"]},"legend":{"orient":"none","legendX":122,"legendY":530,"direction":"horizontal","columns":4,"title":null,"labelExpr":"'Rep.24 Source ' + datum.label"}}},
"layer":[{"mark":{"type":"line","strokeWidth":6,"strokeCap":"round","strokeJoin":"round"}}]},
{"width":211,"height":179,"title":{"text":["PDF Rep.24","NPts.=10000"],"offset":-15},
"layer":[
{"data":{"name":"p4"},"mark":{"type":"line","strokeWidth":9,"strokeCap":"round","strokeJoin":"round"},
"encoding":{"x":{"field":"x","type":"quantitative","scale":{"domain":[0,1],"nice":false,"zero":false},"axis":{"values":[0,0.25,0.5,0.75,1],"title":"First Component PCA"}},
"y":{"field":"y","type":"quantitative","scale":{"domain":[0,0.0006],"nice":false},"axis":{"values":[0,0.0002,0.0004,0.0006],"labelExpr":"'' + round(datum.value*10000)","title":"Probability"}},
"color":{"field":"s","type":"nominal","scale":{"range":["#0000ff","#ff0000","#00ff00","#000033"]},"legend":{"orient":"none","legendX":122,"legendY":530,"direction":"horizontal","columns":4,"title":null,"labelExpr":"'Rep.24 Source ' + datum.label"}}}},
{"data":{"values":[{}]},"mark":{"type":"text","align":"left","baseline":"bottom","dy":-5,"fontSize":18,"font":"Liberation Serif","color":"#262626"},
"encoding":{"x":{"datum":0,"type":"quantitative"},"y":{"datum":0.0006,"type":"quantitative"},"text":{"value":"×10⁻⁴"}}}
]},
{"width":211,"height":179,"title":"PDF Rep.13 NPts.=20","data":{"name":"p5"},
"encoding":{"x":{"field":"x","type":"quantitative","scale":{"domain":[0,0.25],"nice":false,"zero":false},"axis":{"values":[0,0.125,0.25],"title":"First Component PCA"}},
"y":{"field":"y","type":"quantitative","scale":{"domain":[0,1],"nice":false},"axis":{"values":[0,0.5,1],"title":"Probability"}},
"stroke":{"field":"s","type":"nominal","scale":{"range":["#0000cc","#b30000","#00a000","#00001a"]},"legend":{"orient":"none","legendX":122,"legendY":566,"direction":"horizontal","columns":4,"title":null,"labelExpr":"'Rep.13 Source ' + datum.label"}}},
"layer":[{"mark":{"type":"line","strokeWidth":1.5}},{"mark":{"type":"point","filled":false,"size":24,"strokeWidth":1.2,"opacity":1}}]},
{"width":211,"height":179,"title":"PDF Rep.13 NPts.=60","data":{"name":"p6"},
"encoding":{"x":{"field":"x","type":"quantitative","scale":{"domain":[0,0.25],"nice":false,"zero":false},"axis":{"values":[0,0.125,0.25],"title":"First Component PCA"}},
"y":{"field":"y","type":"quantitative","scale":{"domain":[0,1],"nice":false},"axis":{"values":[0,0.5,1],"title":"Probability"}},
"stroke":{"field":"s","type":"nominal","scale":{"range":["#0000cc","#b30000","#00a000","#00001a"]},"legend":{"orient":"none","legendX":122,"legendY":566,"direction":"horizontal","columns":4,"title":null,"labelExpr":"'Rep.13 Source ' + datum.label"}}},
"layer":[{"mark":{"type":"line","strokeWidth":1.5}},{"mark":{"type":"point","filled":false,"size":24,"strokeWidth":1.2,"opacity":1}}]},
{"width":211,"height":179,"title":"PDF Rep.13 NPts.=250","data":{"name":"p7"},
"encoding":{"x":{"field":"x","type":"quantitative","scale":{"domain":[0,0.1],"nice":false,"zero":false},"axis":{"values":[0,0.05,0.1],"title":"First Component PCA"}},
"y":{"field":"y","type":"quantitative","scale":{"domain":[0,1],"nice":false},"axis":{"values":[0,0.5,1],"title":"Probability"}},
"stroke":{"field":"s","type":"nominal","scale":{"range":["#0000cc","#b30000","#00a000","#00001a"]},"legend":{"orient":"none","legendX":122,"legendY":566,"direction":"horizontal","columns":4,"title":null,"labelExpr":"'Rep.13 Source ' + datum.label"}}},
"layer":[{"mark":{"type":"line","strokeWidth":1.5}},{"mark":{"type":"point","filled":false,"size":24,"strokeWidth":1.2,"opacity":1}}]},
{"width":211,"height":179,"title":"PDF Rep.13 NPts.=10000","data":{"name":"p8"},
"encoding":{"x":{"field":"x","type":"quantitative","scale":{"domain":[0,0.04],"nice":false,"zero":false},"axis":{"values":[0,0.02,0.04],"title":"First Component PCA"}},
"y":{"field":"y","type":"quantitative","scale":{"domain":[0,0.08],"nice":false},"axis":{"values":[0,0.02,0.04,0.06,0.08],"title":"Probability","titlePadding":-8}},
"stroke":{"field":"s","type":"nominal","scale":{"range":["#0000cc","#b30000","#00a000","#00001a"]},"legend":{"orient":"none","legendX":122,"legendY":566,"direction":"horizontal","columns":4,"title":null,"labelExpr":"'Rep.13 Source ' + datum.label"}}},
"layer":[{"mark":{"type":"line","strokeWidth":5,"strokeCap":"round","strokeJoin":"round"}},{"mark":{"type":"point","filled":false,"size":24,"strokeWidth":1.2,"opacity":1}}]}
],
"resolve":{"scale":{"x":"independent","y":"independent"},"axis":{"x":"independent","y":"independent"}}
}
